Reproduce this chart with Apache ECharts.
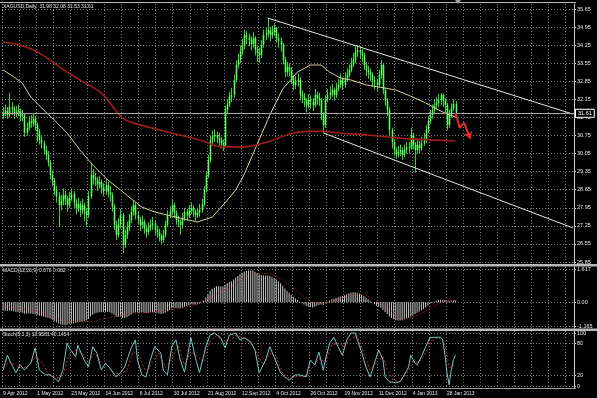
<!DOCTYPE html>
<html><head><meta charset="utf-8">
<script src="https://cdn.jsdelivr.net/npm/echarts@6/dist/echarts.min.js"></script>
<style>html,body{margin:0;padding:0;background:#000;}#c{width:597px;height:398px;}</style>
</head><body><div id="c"></div>
<script>
// ---- price data (XAGUSD daily, bar 0 = 9 Apr 2012) ----
const opens = [31.50,
31.62,31.70,31.55,31.85,31.78,31.60,31.66,31.72,31.50,31.55,
30.85,31.05,31.30,31.24,31.40,31.16,30.90,30.58,30.45,30.20,
30.00,29.70,29.22,29.00,28.64,28.40,28.06,28.20,28.45,28.30,
28.06,28.33,28.50,28.15,27.94,28.10,27.87,28.05,27.80,27.67,
28.40,29.22,29.10,29.03,28.85,28.95,28.72,28.60,28.83,28.56,
28.45,28.00,27.29,26.90,27.30,27.67,26.51,26.90,27.20,27.48,
27.80,28.06,27.67,27.50,27.29,27.40,27.15,27.01,27.20,27.29,
27.35,27.09,27.00,26.85,26.70,26.90,27.30,27.67,27.80,28.06,
27.75,27.48,27.40,27.29,27.55,27.79,27.65,27.85,27.94,27.80,
27.67,27.75,27.87,28.10,28.64,29.20,29.80,30.58,30.70,30.77,
30.65,30.58,30.45,30.38,31.74,31.95,32.24,32.32,32.90,33.48,
33.68,34.00,34.26,34.64,34.55,34.45,34.30,34.53,34.06,33.95,
33.87,34.26,34.64,34.70,34.84,34.64,34.75,34.91,34.53,34.40,
34.26,33.68,33.21,33.40,33.29,32.98,32.71,32.85,32.90,32.32,
32.25,32.13,31.93,32.13,32.05,31.93,32.32,32.20,32.13,31.55,
31.16,32.13,32.32,32.40,32.51,32.32,32.55,32.71,32.90,32.71,
32.95,33.09,33.29,33.50,33.68,33.98,34.06,33.95,33.87,33.48,
33.29,33.20,33.09,32.90,32.80,32.71,33.09,33.48,32.51,32.10,
31.74,30.96,30.50,30.19,30.00,30.10,30.19,30.00,30.19,30.30,
30.27,30.77,30.40,30.19,30.38,30.27,30.45,30.58,30.96,31.30,
31.55,31.74,31.93,32.00,32.13,32.32,32.10,31.93,31.16,31.55,
31.80,31.98];
const closes = [
31.62,31.70,31.55,31.85,31.78,31.60,31.66,31.72,31.50,31.55,
30.85,31.05,31.30,31.24,31.40,31.16,30.90,30.58,30.45,30.20,
30.00,29.70,29.22,29.00,28.64,28.40,28.06,28.20,28.45,28.30,
28.06,28.33,28.50,28.15,27.94,28.10,27.87,28.05,27.80,27.67,
28.40,29.22,29.10,29.03,28.85,28.95,28.72,28.60,28.83,28.56,
28.45,28.00,27.29,26.90,27.30,27.67,26.51,26.90,27.20,27.48,
27.80,28.06,27.67,27.50,27.29,27.40,27.15,27.01,27.20,27.29,
27.35,27.09,27.00,26.85,26.70,26.90,27.30,27.67,27.80,28.06,
27.75,27.48,27.40,27.29,27.55,27.79,27.65,27.85,27.94,27.80,
27.67,27.75,27.87,28.10,28.64,29.20,29.80,30.58,30.70,30.77,
30.65,30.58,30.45,30.38,31.74,31.95,32.24,32.32,32.90,33.48,
33.68,34.00,34.26,34.64,34.55,34.45,34.30,34.53,34.06,33.95,
33.87,34.26,34.64,34.70,34.84,34.64,34.75,34.91,34.53,34.40,
34.26,33.68,33.21,33.40,33.29,32.98,32.71,32.85,32.90,32.32,
32.25,32.13,31.93,32.13,32.05,31.93,32.32,32.20,32.13,31.55,
31.16,32.13,32.32,32.40,32.51,32.32,32.55,32.71,32.90,32.71,
32.95,33.09,33.29,33.50,33.68,33.98,34.06,33.95,33.87,33.48,
33.29,33.20,33.09,32.90,32.80,32.71,33.09,33.48,32.51,32.10,
31.74,30.96,30.50,30.19,30.00,30.10,30.19,30.00,30.19,30.30,
30.27,30.77,30.40,30.19,30.38,30.27,30.45,30.58,30.96,31.30,
31.55,31.74,31.93,32.00,32.13,32.32,32.10,31.93,31.16,31.55,
31.80,31.98,31.61];
const highs = [
31.85,31.95,31.85,32.40,32.05,31.90,31.90,31.95,31.80,31.75,
31.60,31.25,31.50,31.55,31.60,31.50,31.25,31.00,30.75,30.55,
30.35,30.15,29.80,29.40,29.10,28.80,28.55,28.45,28.70,28.60,
28.40,28.55,28.70,28.60,28.30,28.35,28.20,28.30,28.15,27.95,
28.60,29.70,29.45,29.30,29.15,29.20,29.05,28.90,29.05,28.95,
28.80,28.55,28.10,27.45,27.55,27.90,27.75,27.10,27.40,27.70,
28.00,28.25,28.15,27.80,27.60,27.65,27.50,27.30,27.40,27.50,
27.60,27.45,27.25,27.15,26.95,27.10,27.45,27.85,28.00,28.25,
28.15,27.85,27.65,27.50,27.75,27.95,27.90,28.05,28.15,28.05,
27.90,27.95,28.10,28.30,28.80,29.35,30.00,30.75,30.95,31.00,
30.90,30.85,30.70,30.60,31.90,32.15,32.45,32.60,33.10,33.65,
33.90,34.25,34.50,34.85,34.80,34.70,34.60,34.75,34.60,34.20,
34.15,34.45,34.85,34.95,35.30,34.95,35.00,35.10,34.95,34.70,
34.55,34.35,33.80,33.60,33.55,33.40,33.10,33.05,33.15,33.00,
32.50,32.40,32.20,32.35,32.30,32.20,32.55,32.45,32.40,32.20,
31.65,32.30,32.55,32.65,32.75,32.60,32.80,32.95,33.15,33.00,
33.20,33.35,33.50,33.75,33.95,34.20,34.25,34.20,34.10,33.95,
33.60,33.45,33.35,33.20,33.05,32.95,33.30,33.68,33.55,32.60,
32.20,31.85,31.05,30.60,30.30,30.35,30.40,30.30,30.40,30.50,
30.50,31.05,30.85,30.50,30.60,30.55,30.70,30.85,31.15,31.50,
31.75,31.95,32.15,32.25,32.35,32.40,32.38,32.20,32.00,31.75,
32.00,32.15,32.08];
const lows = [
31.40,31.50,31.40,31.45,31.55,31.40,31.45,31.50,31.30,31.30,
30.70,30.75,30.95,31.05,31.10,30.95,30.50,30.40,30.25,30.00,
29.80,29.55,29.05,28.80,28.45,28.15,27.20,27.85,28.05,28.05,
27.80,27.95,28.20,27.95,27.70,27.80,27.60,27.70,27.45,27.20,
27.55,28.30,28.85,28.80,28.60,28.70,28.50,28.40,28.45,28.35,
28.20,27.80,27.10,26.70,26.80,27.15,26.20,26.40,26.75,27.05,
27.35,27.65,27.50,27.30,27.05,27.15,26.95,26.80,26.90,27.05,
27.10,26.90,26.80,26.65,26.55,26.60,26.80,27.20,27.55,27.70,
27.55,27.30,27.20,26.90,27.15,27.45,27.45,27.55,27.70,27.60,
27.45,27.55,27.60,27.75,28.00,28.55,29.10,29.70,30.40,30.50,
30.45,30.35,30.25,30.15,30.30,31.60,31.85,32.05,32.20,32.80,
33.35,33.55,33.85,34.10,34.30,34.20,34.05,34.15,33.85,33.60,
33.55,33.75,34.15,34.45,34.55,34.40,34.50,34.60,34.35,34.15,
34.00,33.50,33.00,33.05,33.05,32.75,32.50,32.55,32.65,32.10,
32.00,31.85,31.65,31.80,31.80,31.70,31.85,31.95,31.90,31.35,
30.85,31.05,32.05,32.15,32.25,32.10,32.20,32.45,32.60,32.50,
32.60,32.85,33.00,33.20,33.40,33.55,33.80,33.70,33.60,33.30,
33.05,32.95,32.85,32.65,32.55,32.45,32.60,32.95,32.35,31.90,
31.50,30.75,30.25,29.95,29.85,29.90,29.95,29.80,29.90,30.05,
30.05,30.20,30.20,29.30,30.05,30.05,30.15,30.35,30.45,30.85,
31.20,31.40,31.60,31.75,31.85,31.95,31.85,31.65,30.95,31.05,
31.45,31.70,31.53];

// moving averages: [barIndex, value]
const maFast = [[0,33.29],[5,33.02],[9,32.78],[13,32.24],[19,31.74],[24,31.35],[30,30.85],[36,30.19],[42,29.61],[49,29.03],[55,28.64],[59,28.37],[65,27.98],[71,27.79],[81,27.59],[91,27.40],[98,27.59],[104,28.14],[109,28.64],[113,29.25],[119,30.40],[125,31.55],[131,32.55],[138,33.21],[144,33.48],[149,33.48],[153,33.21],[158,32.98],[163,32.90],[170,32.71],[179,32.59],[184,32.51],[192,32.24],[198,32.01],[204,31.74],[209,31.55],[212,31.47]];
const maSlow = [[0,34.37],[8,34.26],[17,33.95],[27,33.37],[36,32.90],[46,32.40],[56,31.43],[61,31.24],[77,30.89],[92,30.58],[102,30.31],[113,30.31],[124,30.50],[136,30.85],[149,30.92],[158,30.85],[171,30.77],[186,30.65],[200,30.58],[212,30.54]];

// MACD(12,26,9)
const macdHist = [
-0.40,-0.42,-0.43,-0.41,-0.42,-0.45,-0.47,-0.48,-0.50,-0.52,
-0.55,-0.56,-0.55,-0.56,-0.58,-0.60,-0.63,-0.66,-0.68,-0.71,
-0.74,-0.76,-0.80,-0.86,-0.92,-0.98,-1.04,-1.09,-1.12,-1.13,
-1.10,-1.07,-1.05,-1.03,-1.01,-0.99,-0.97,-0.95,-0.93,-0.90,
-0.82,-0.70,-0.62,-0.56,-0.52,-0.50,-0.49,-0.48,-0.47,-0.48,
-0.50,-0.55,-0.62,-0.70,-0.72,-0.70,-0.78,-0.78,-0.74,-0.68,
-0.60,-0.52,-0.50,-0.50,-0.51,-0.50,-0.52,-0.53,-0.52,-0.50,
-0.49,-0.50,-0.52,-0.55,-0.58,-0.57,-0.52,-0.45,-0.38,-0.30,
-0.28,-0.28,-0.29,-0.30,-0.27,-0.22,-0.20,-0.16,-0.12,-0.11,
-0.12,-0.11,-0.08,-0.02,0.08,0.22,0.38,0.55,0.65,0.72,
0.76,0.78,0.78,0.76,0.85,0.92,0.98,1.02,1.10,1.20,
1.28,1.36,1.43,1.50,1.53,1.55,1.55,1.54,1.48,1.42,
1.36,1.32,1.30,1.30,1.30,1.27,1.22,1.18,1.10,1.02,
0.92,0.80,0.66,0.56,0.46,0.36,0.26,0.18,0.10,0.03,
-0.05,-0.12,-0.18,-0.22,-0.24,-0.26,-0.22,-0.18,-0.14,-0.12,
-0.14,-0.06,0.02,0.08,0.14,0.16,0.20,0.24,0.28,0.30,
0.34,0.38,0.42,0.46,0.48,0.48,0.46,0.42,0.36,0.30,
0.22,0.14,0.06,-0.02,-0.10,-0.18,-0.22,-0.28,-0.38,-0.48,
-0.58,-0.70,-0.78,-0.84,-0.88,-0.90,-0.90,-0.88,-0.85,-0.80,
-0.76,-0.70,-0.64,-0.58,-0.52,-0.46,-0.40,-0.34,-0.26,-0.18,
-0.10,-0.03,0.03,0.07,0.10,0.12,0.11,0.10,0.05,0.04,
0.06,0.08,0.078];
const macdSignal = [[0,-0.20],[10,-0.35],[20,-0.55],[30,-0.95],[40,-0.95],[50,-0.75],[60,-0.55],[70,-0.48],[80,-0.35],[90,-0.12],[100,0.40],[110,0.95],[118,1.40],[125,1.38],[132,1.00],[140,0.35],[148,-0.05],[155,0.05],[162,0.30],[168,0.38],[175,0.05],[182,-0.45],[188,-0.80],[195,-0.60],[202,-0.20],[208,0.05],[212,0.062]];

// Stochastic(5,3,3)
const stochMain = [[0,30],[2,58],[3,49],[6,25],[8,40],[10,30],[13,43],[15,72],[17,30],[20,21],[22,21],[24,15],[26,8],[28,30],[30,81],[31,72],[34,55],[35,77],[38,49],[40,36],[42,74],[44,62],[46,30],[48,43],[50,34],[53,17],[55,25],[57,36],[60,72],[62,87],[63,49],[65,21],[67,17],[69,49],[71,74],[74,62],[75,30],[77,21],[79,74],[81,87],[83,49],[85,26],[88,91],[90,55],[92,25],[95,74],[97,96],[99,100],[102,91],[104,72],[106,96],[109,100],[111,87],[113,91],[116,83],[118,68],[120,25],[123,49],[125,74],[127,55],[130,25],[132,17],[134,11],[137,21],[139,21],[142,17],[144,49],[146,40],[148,64],[150,30],[151,49],[153,81],[155,92],[157,74],[159,58],[161,87],[163,100],[165,100],[166,87],[168,64],[170,36],[172,17],[174,43],[176,68],[178,49],[179,17],[181,8],[184,6],[186,8],[188,21],[190,36],[191,58],[193,43],[194,40],[196,55],[198,74],[200,91],[202,92],[205,92],[206,87],[207,60],[208,25],[209,2],[210,30],[211,50],[212,58]];
const stochSignal = [[0,35],[3,45],[6,40],[9,33],[12,38],[15,55],[18,45],[21,25],[25,14],[28,20],[31,60],[34,68],[37,62],[40,45],[43,62],[46,45],[49,38],[52,25],[55,22],[58,30],[61,65],[64,55],[67,25],[70,45],[73,62],[76,35],[79,50],[82,78],[85,40],[88,65],[91,55],[94,45],[97,85],[100,95],[103,85],[106,85],[109,95],[112,92],[116,85],[119,60],[122,40],[125,62],[128,55],[131,25],[134,15],[138,18],[142,19],[145,35],[148,52],[151,45],[154,78],[157,80],[160,75],[163,90],[166,95],[169,62],[172,30],[175,45],[178,55],[180,30],[183,10],[186,8],[189,22],[192,45],[195,45],[198,62],[201,85],[204,92],[207,80],[209,35],[212,40]];

// drawn objects
const upperTrend = [[124,35.30],[267,31.58]];
const lowerTrend = [[150,30.85],[267,27.17]];
const projection = [[212,31.62],[214,31.04],[216,31.25],[219,30.62]];
const lastPrice = 31.61;

// axes
const slotCount = 268;
const dateLabels = ['9 Apr 2012','1 May 2012','23 May 2012','14 Jun 2012','6 Jul 2012','30 Jul 2012','21 Aug 2012','12 Sep 2012','4 Oct 2012','26 Oct 2012','19 Nov 2012','11 Dec 2012','4 Jan 2013','28 Jan 2013'];
const priceTicks = [25.85,26.55,27.25,27.95,28.65,29.35,30.05,30.75,31.45,32.15,32.85,33.55,34.25,34.95,35.65];
const macdTicks = [-1.165,0,1.617];
const macdLabels = ['-1.165','0.00','1.617'];
const stochTicks = [0,20,80,100];

const FONT = 'Liberation Sans';
const TXT = '#e8e8e8';
const GRIDC = '#7a7a7a';
const cats = Array.from({length: slotCount}, (_, i) => String(i));
const candleRows = closes.map((c, i) => [i, opens[i], c, lows[i], highs[i]]);

const chart = echarts.init(document.getElementById('c'), null, {renderer: 'canvas'});

function renderCandle(params, api) {
  const x = api.value(0);
  const pO = api.coord([x, api.value(1)]);
  const pC = api.coord([x, api.value(2)]);
  const pL = api.coord([x, api.value(3)]);
  const pH = api.coord([x, api.value(4)]);
  const w = 1.6;
  const top = Math.min(pO[1], pC[1]);
  const h = Math.max(Math.abs(pO[1] - pC[1]), 1);
  const cx = Math.round(pO[0]) + 0.5;
  return {
    type: 'group',
    children: [
      {type: 'line', shape: {x1: cx, y1: pH[1], x2: cx, y2: pL[1]}, style: {stroke: '#2ed82e', lineWidth: 1}},
      {type: 'rect', shape: {x: cx - w / 2, y: top, width: w, height: h}, style: {fill: '#5aff5a'}}
    ]
  };
}

function xAx(gi, showLabels) {
  return {
    type: 'category', gridIndex: gi, data: cats, boundaryGap: true,
    axisLine: {show: false}, axisTick: {show: false},
    splitLine: {show: true, interval: 7, lineStyle: {color: GRIDC, type: [1, 2], width: 1}},
    axisLabel: showLabels ? {
      show: true, color: TXT, fontSize: 5, fontFamily: FONT, align: 'left', margin: 3,
      interval: (idx) => idx % 16 === 0 && idx / 16 < dateLabels.length,
      formatter: (v, idx) => dateLabels[idx / 16] || ''
    } : {show: false}
  };
}
function yAx(gi, min, max, ticks, fmt) {
  return {
    type: 'value', gridIndex: gi, position: 'right', min: min, max: max, scale: true,
    axisLine: {show: true, lineStyle: {color: '#d0d0d0', width: 1}},
    axisTick: {show: true, length: 2, customValues: ticks, lineStyle: {color: '#d0d0d0'}},
    axisLabel: {show: true, customValues: ticks, color: TXT, fontSize: 5.5, fontFamily: FONT, margin: 3, align: 'left', formatter: fmt, showMinLabel: true, showMaxLabel: true},
    splitLine: {show: true, lineStyle: {color: GRIDC, type: [1, 2], width: 1}}
  };
}

const option = {
  backgroundColor: '#000000',
  animation: false,
  grid: [
    {left: 2, right: 23, top: 4, height: 260},
    {left: 2, right: 23, top: 267, height: 61},
    {left: 2, right: 23, top: 331, height: 57}
  ],
  xAxis: [xAx(0, false), xAx(1, false), xAx(2, true)],
  yAxis: [
    yAx(0, 25.774, 35.844, priceTicks, (v) => v.toFixed(2)),
    yAx(1, -1.263, 1.715, macdTicks, (v) => macdLabels[macdTicks.indexOf(v)] !== undefined ? macdLabels[macdTicks.indexOf(v)] : v.toFixed(3)),
    yAx(2, -3.8, 103.8, stochTicks, (v) => String(Math.round(v)))
  ],
  series: [
    {
      type: 'custom', xAxisIndex: 0, yAxisIndex: 0, data: candleRows, renderItem: renderCandle,
      encode: {x: 0, y: [1, 2, 3, 4]}, clip: true, z: 3,
      markLine: {
        silent: true, symbol: ['none', 'none'], animation: false,
        data: [
          [{coord: [String(upperTrend[0][0]), upperTrend[0][1]], lineStyle: {color: '#e6e6e6', width: 1, type: 'solid'}, label: {show: false}},
           {coord: [String(upperTrend[1][0]), upperTrend[1][1]]}],
          [{coord: [String(lowerTrend[0][0]), lowerTrend[0][1]], lineStyle: {color: '#e6e6e6', width: 1, type: 'solid'}, label: {show: false}},
           {coord: [String(lowerTrend[1][0]), lowerTrend[1][1]]}],
          {yAxis: lastPrice, lineStyle: {color: '#a8a8a8', width: 1, type: 'solid'},
           label: {show: true, position: 'end', distance: 2, formatter: lastPrice.toFixed(2), color: '#ffffff', fontSize: 5.5, fontFamily: FONT,
                   backgroundColor: '#000000', borderColor: '#ffffff', borderWidth: 1, padding: [1, 2, 0, 2]}}
        ]
      }
    },
    {type: 'line', xAxisIndex: 0, yAxisIndex: 0, data: maFast, symbol: 'none', lineStyle: {color: '#d8d0a0', width: 1}, z: 4},
    {type: 'line', xAxisIndex: 0, yAxisIndex: 0, data: maSlow, symbol: 'none', smooth: 0.3, lineStyle: {color: '#a01c1c', width: 1.6}, z: 4},
    {
      type: 'line', xAxisIndex: 0, yAxisIndex: 0, data: projection.slice(0, 3), symbol: 'none', lineStyle: {color: '#e52a2a', width: 2}, z: 6,
      markLine: {silent: true, animation: false, symbol: ['none', 'arrow'], symbolSize: 7,
        lineStyle: {color: '#e52a2a', width: 2, type: 'solid'}, label: {show: false},
        data: [[{coord: [String(projection[2][0]), projection[2][1]]}, {coord: [String(projection[3][0]), projection[3][1]]}]]}
    },
    {type: 'bar', xAxisIndex: 1, yAxisIndex: 1, data: macdHist, barWidth: 1, itemStyle: {color: '#c8c8c8'}, z: 3},
    {type: 'line', xAxisIndex: 1, yAxisIndex: 1, data: macdSignal, symbol: 'none', smooth: 0.3, lineStyle: {color: '#c83030', width: 1, type: [1, 2]}, z: 4},
    {type: 'line', xAxisIndex: 2, yAxisIndex: 2, data: stochSignal, symbol: 'none', lineStyle: {color: '#c03030', width: 1, type: [2, 2]}, z: 3},
    {type: 'line', xAxisIndex: 2, yAxisIndex: 2, data: stochMain, symbol: 'none', lineStyle: {color: '#7ec4c4', width: 1}, z: 4}
  ],
  graphic: [
    {type: 'rect', left: 0, top: 2, shape: {width: 576, height: 1}, style: {fill: '#b8b8b8'}, silent: true},
    {type: 'rect', left: 0, top: 264, shape: {width: 597, height: 2.5}, style: {fill: '#b8b8b8'}, silent: true},
    {type: 'rect', left: 0, top: 328.5, shape: {width: 597, height: 2.5}, style: {fill: '#b8b8b8'}, silent: true},
    {type: 'rect', left: 0, top: 388, shape: {width: 576, height: 1}, style: {fill: '#9a9a9a'}, silent: true},
    {type: 'polygon', shape: {points: [[455, 0], [461, 0], [458, 4]]}, style: {fill: '#a0a0a0'}, silent: true},
    {type: 'text', left: 3, top: 4, style: {text: 'XAGUSD,Daily  31.98 32.08 31.53 31.61', fill: TXT, font: '5px "Liberation Sans"'}, silent: true},
    {type: 'text', left: 3, top: 268, style: {text: 'MACD(12,26,9) 0.078 0.062', fill: TXT, font: '5px "Liberation Sans"'}, silent: true},
    {type: 'text', left: 3, top: 332, style: {text: 'Stoch(5,3,3) 18.9581 40.1454', fill: TXT, font: '5px "Liberation Sans"'}, silent: true}
  ]
};
chart.setOption(option);
</script>
</body></html>
